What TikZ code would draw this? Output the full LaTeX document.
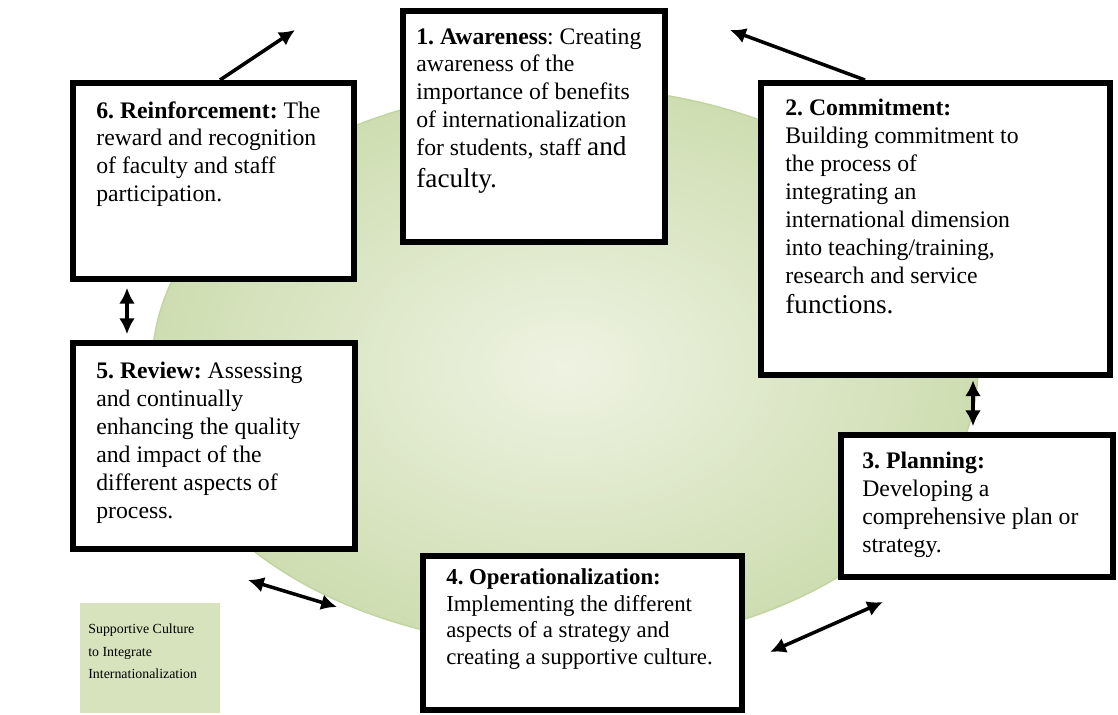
\documentclass[tikz,border=0pt]{standalone}
\usepackage{fontspec}
\setmainfont{Liberation Serif}
\usetikzlibrary{arrows.meta,calc}
\definecolor{ringin}{RGB}{238,243,226}
\definecolor{ringout}{RGB}{206,221,177}
\definecolor{ringedge}{RGB}{194,212,158}
\definecolor{legendfill}{RGB}{215,227,189}
\frenchspacing
\begin{document}
\begin{tikzpicture}[x=0.02cm,y=-0.02cm,
    stage/.style={draw,line width=3.1pt,fill=white,inner sep=0pt,outer sep=0pt,anchor=north west},
    stagetext/.style={anchor=north west,inner sep=0pt,align=left,font=\fontsize{13.5}{15.9}\selectfont},
    flow/.style={line width=2pt,-{Latex[length=9pt,width=9pt]}},
    twoway/.style={line width=2pt,{Latex[length=9pt,width=9pt]}-{Latex[length=9pt,width=9pt]}}]
    \def\pxu{0.02cm}
    \def\big#1{{\fontsize{15.5}{18}\selectfont #1}}
    \useasboundingbox (0,0) rectangle (1118,715);
    % shaded ring behind the stages
    \shadedraw[inner color=ringin,outer color=ringout,draw=ringedge,line width=0.8pt]
      (565,367) ellipse [x radius=413,y radius=280];
    % the six stages
    \node[stage,minimum width=262*\pxu,minimum height=231*\pxu] (b1) at (403,11) {};
    \node[stage,minimum width=349*\pxu,minimum height=292*\pxu] (b2) at (761,83) {};
    \node[stage,minimum width=272*\pxu,minimum height=142*\pxu] (b3) at (841,435) {};
    \node[stage,minimum width=319*\pxu,minimum height=154*\pxu] (b4) at (423,556) {};
    \node[stage,minimum width=282*\pxu,minimum height=206*\pxu] (b5) at (73,343) {};
    \node[stage,minimum width=281*\pxu,minimum height=196*\pxu] (b6) at (73,83) {};
    \node[stage,draw=none,fill=legendfill,minimum width=140*\pxu,minimum height=110*\pxu] (leg) at (80,603) {};
    \node[stagetext] (t1) at ($(b1.north west)+(13,17)$) {\textbf{1. Awareness}: Creating\\awareness of the\\importance of benefits\\of internationalization\\for students, staff \big{and}\\[2pt]\big{faculty.}};
    \node[stagetext] (t2) at ($(b2.north west)+(24,16)$) {\textbf{2. Commitment:}\\Building commitment to\\the process of\\integrating an\\international dimension\\into teaching/training,\\research and service\\[1pt]\big{functions.}};
    \node[stagetext] (t3) at ($(b3.north west)+(21,17)$) {\textbf{3. Planning:}\\Developing a\\comprehensive plan or\\strategy.};
    \node[stagetext,font=\fontsize{13}{15.3}\selectfont] (t4) at ($(b4.north west)+(23,12)$) {\textbf{4. Operationalization:}\\Implementing the different\\aspects of a strategy and\\creating a supportive culture.};
    \node[stagetext] (t5) at ($(b5.north west)+(23,19)$) {\textbf{5. Review:} Assessing\\and continually\\enhancing the quality\\and impact of the\\different aspects of\\process.};
    \node[stagetext] (t6) at ($(b6.north west)+(23,18)$) {\textbf{6. Reinforcement:} The\\reward and recognition\\of faculty and staff\\participation.};
    \node[stagetext,font=\fontsize{7.9}{12.7}\selectfont] (tleg) at ($(leg.north west)+(8,21)$) {Supportive Culture\\to Integrate\\Internationalization};
    % arrows between the stages
    \coordinate (up6) at (295,30);
    \coordinate (up2) at (730,30);
    \draw[flow] ($(b6.north west)+(147,-3)$) -- (up6);
    \draw[flow] ($(b2.north west)+(104,-3)$) -- (up2);
    \draw[twoway,shorten <=5pt,shorten >=5pt] ($(b6.south west)+(54,0)$) -- ($(b5.north west)+(54,0)$);
    \draw[twoway,shorten <=3pt,shorten >=5pt] ($(b2.south west)+(212,0)$) -- ($(b3.north west)+(132,0)$);
    \draw[twoway] ($(b3.south west)+(42,25)$) -- ($(b4.north east)+(28,96)$);
    \draw[twoway] ($(b5.south west)+(175,31)$) -- ($(b4.north west)+(-86,51)$);
\end{tikzpicture}
\end{document}
